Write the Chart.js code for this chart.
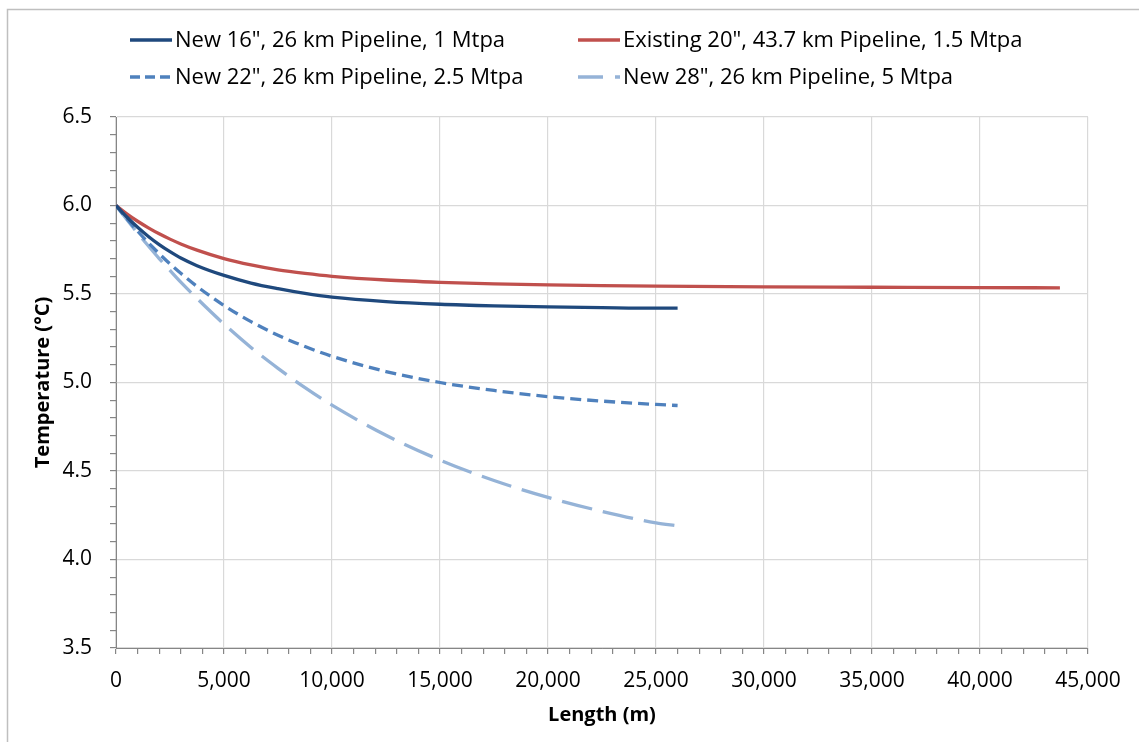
<!DOCTYPE html>
<html lang="en">
<head>
    <meta charset="UTF-8">
    <title>Pipeline Temperature Profile</title>
    <script src="https://cdn.jsdelivr.net/npm/chart.js@4.4.8/dist/chart.umd.js"></script>
    <style>
        html, body { margin: 0; padding: 0; background: #fff; }
    </style>
</head>
<body>
    <canvas id="tempChart" width="1139" height="742"></canvas>
    <script>
        // distance along pipeline (m)
        const newLength = [0, 500, 1000, 1500, 2000, 2500, 3000, 3750, 5000, 6250, 7500, 8750,
            10000, 12500, 15000, 17500, 20000, 22500, 25000, 26000];
        const existingLength = [0, 500, 1000, 1500, 2000, 2500, 3000, 3750, 5000, 6250, 7500, 8750,
            10000, 12500, 15000, 17500, 20000, 22500, 25000, 30000, 35000, 40000, 43700];

        // fluid temperature (°C)
        const temp16in = [6.00, 5.935, 5.877, 5.825, 5.779, 5.739, 5.703, 5.66, 5.605, 5.562, 5.53, 5.503,
            5.482, 5.457, 5.442, 5.433, 5.427, 5.423, 5.42, 5.42];
        const temp20in = [6.00, 5.953, 5.911, 5.874, 5.84, 5.81, 5.783, 5.748, 5.70, 5.664, 5.636, 5.616,
            5.60, 5.579, 5.566, 5.557, 5.551, 5.547, 5.544, 5.540, 5.538, 5.536, 5.535];
        const temp22in = [6.00, 5.925, 5.855, 5.789, 5.728, 5.67, 5.617, 5.543, 5.435, 5.344, 5.267, 5.203,
            5.148, 5.062, 5.00, 4.955, 4.92, 4.895, 4.876, 4.87];
        const temp28in = [6.00, 5.921, 5.844, 5.771, 5.70, 5.633, 5.567, 5.475, 5.33, 5.198, 5.08, 4.971,
            4.872, 4.702, 4.562, 4.446, 4.351, 4.272, 4.207, 4.19];

        const seriesLabels = [
            'New 16", 26 km Pipeline, 1 Mtpa',
            'Existing 20", 43.7 km Pipeline, 1.5 Mtpa',
            'New 22", 26 km Pipeline, 2.5 Mtpa',
            'New 28", 26 km Pipeline, 5 Mtpa'
        ];

        const FONT = '"Open Sans", "Liberation Sans", sans-serif';

        function toPoints(xs, ys) {
            return xs.map((x, i) => ({ x: x, y: ys[i] }));
        }

        // white background and the thin outer frame
        const framePlugin = {
            id: 'frame',
            beforeDraw(chart) {
                const ctx = chart.ctx;
                ctx.save();
                ctx.fillStyle = '#fff';
                ctx.fillRect(0, 0, chart.width, chart.height);
                ctx.strokeStyle = '#bfbfbf';
                ctx.lineWidth = 1.5;
                ctx.strokeRect(7.5, 9.5, chart.width + 20, chart.height + 20);
                ctx.restore();
            }
        };

        // two-column legend above the plot
        const legendPlugin = {
            id: 'pipeLegend',
            afterDraw(chart) {
                const ctx = chart.ctx;
                const cols = [130, 578];
                const rows = [40, 77];
                ctx.save();
                ctx.font = '22px ' + FONT;
                ctx.textBaseline = 'middle';
                ctx.fillStyle = '#000';
                chart.data.datasets.forEach((ds, i) => {
                    const x = cols[i % 2];
                    const y = rows[Math.floor(i / 2)];
                    ctx.strokeStyle = ds.borderColor;
                    ctx.lineWidth = ds.borderWidth;
                    ctx.setLineDash(ds.legendDash || []);
                    ctx.beginPath();
                    ctx.moveTo(x, y);
                    ctx.lineTo(x + 42, y);
                    ctx.stroke();
                    ctx.setLineDash([]);
                    ctx.fillText(ds.label, x + 45, y + 1);
                });
                ctx.restore();
            }
        };

        const ctx = document.getElementById('tempChart').getContext('2d');
        new Chart(ctx, {
            type: 'line',
            data: {
                datasets: [{
                    label: seriesLabels[0],
                    data: toPoints(newLength, temp16in),
                    borderColor: '#1f497d',
                    borderWidth: 3.3
                }, {
                    label: seriesLabels[1],
                    data: toPoints(existingLength, temp20in),
                    borderColor: '#c0504d',
                    borderWidth: 3.3
                }, {
                    label: seriesLabels[2],
                    data: toPoints(newLength, temp22in),
                    borderColor: '#4f81bd',
                    borderWidth: 3.3,
                    borderDash: [11, 6],
                    legendDash: [10, 5]
                }, {
                    label: seriesLabels[3],
                    data: toPoints(newLength, temp28in),
                    borderColor: '#95b3d7',
                    borderWidth: 3.3,
                    borderDash: [31, 11],
                    legendDash: [25, 12]
                }]
            },
            options: {
                responsive: false,
                animation: false,
                layout: { padding: { left: 0, right: 51, top: 117, bottom: 0 } },
                elements: {
                    point: { radius: 0 },
                    line: { cubicInterpolationMode: 'monotone', fill: false }
                },
                plugins: {
                    legend: { display: false },
                    tooltip: { enabled: false }
                },
                scales: {
                    x: {
                        type: 'linear',
                        min: 0,
                        max: 45000,
                        afterFit(scale) { scale.height = 94; },
                        border: { color: '#868686', width: 1 },
                        grid: {
                            color: c => (c.tick && Math.round(c.tick.value) % 5000 === 0) ? '#d9d9d9' : 'rgba(0,0,0,0)',
                            tickColor: '#868686',
                            tickLength: 6,
                            lineWidth: 1.2
                        },
                        ticks: {
                            stepSize: 1000,
                            autoSkip: false,
                            maxRotation: 0,
                            minRotation: 0,
                            padding: 14,
                            color: '#000',
                            font: { family: FONT, size: 21 },
                            callback: v => Math.round(v) % 5000 === 0 ? Math.round(v).toLocaleString('en-US') : ''
                        },
                        title: {
                            display: true,
                            text: 'Length (m)',
                            color: '#000',
                            font: { family: FONT, size: 20, weight: 'bold' },
                            padding: { top: 0, bottom: 15 }
                        }
                    },
                    y: {
                        min: 3.5,
                        max: 6.5,
                        afterFit(scale) { scale.width = 116; },
                        border: { color: '#868686', width: 1 },
                        grid: {
                            color: c => (c.tick && Math.round(c.tick.value * 10) % 5 === 0) ? '#d9d9d9' : 'rgba(0,0,0,0)',
                            tickColor: '#868686',
                            tickLength: 6,
                            lineWidth: 1.2
                        },
                        ticks: {
                            stepSize: 0.1,
                            autoSkip: false,
                            padding: 18,
                            color: '#000',
                            font: { family: FONT, size: 21 },
                            callback: v => {
                                const t = Math.round(v * 10);
                                return t % 5 === 0 ? (t / 10).toFixed(1) : '';
                            }
                        },
                        title: {
                            display: true,
                            text: 'Temperature (°C)',
                            color: '#000',
                            font: { family: FONT, size: 20, weight: 'bold' },
                            padding: { top: 31, bottom: 0 }
                        }
                    }
                }
            },
            plugins: [framePlugin, legendPlugin]
        });
    </script>
</body>
</html>
